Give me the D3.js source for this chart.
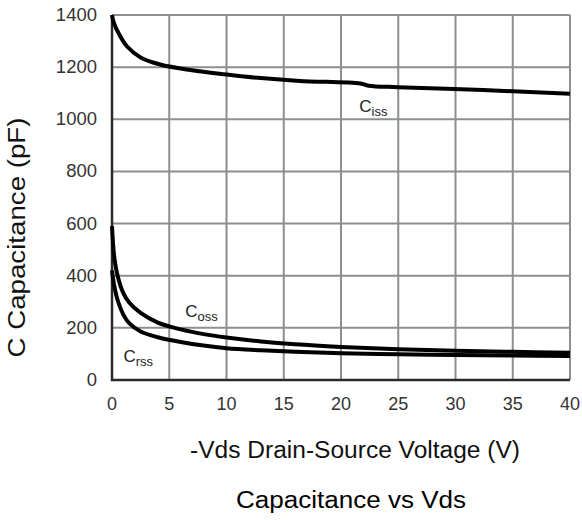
<!DOCTYPE html>
<html>
<head>
<meta charset="utf-8">
<script src="https://cdn.jsdelivr.net/npm/d3@7"></script>
<style>
  body { margin: 0; background: #fff; }
  svg text { font-family: "Liberation Sans", Arial, sans-serif; }
</style>
</head>
<body>
<div id="chart"></div>
<script>
// values
const xTicks = [0, 5, 10, 15, 20, 25, 30, 35, 40];
const yTicks = [0, 200, 400, 600, 800, 1000, 1200, 1400];

const cissV = [0, 0.15, 0.6, 1.3, 2.5, 4.2, 7, 10, 13, 16.4, 21.7, 22.4, 25, 32.4, 40];
const cissC = [1400, 1372, 1328, 1280, 1237, 1210, 1188, 1172, 1158, 1147, 1137, 1129, 1123, 1112, 1098];

const cossV = [0, 0.2, 0.5, 1, 1.5, 2.5, 4, 6, 8, 10, 13, 16, 20, 25, 30, 35, 40];
const cossC = [590, 470, 398, 332, 297, 257, 220, 194, 176, 163, 148, 137, 127, 118, 112, 108, 105];

const crssV = [0, 0.2, 0.5, 1, 1.5, 2.5, 4, 6, 8, 10, 13, 16, 20, 25, 30, 35, 40];
const crssC = [420, 360, 305, 250, 218, 186, 164, 146, 132, 122, 114, 108, 103, 99, 96, 94, 92];

const labels = [
  {main: "C", sub: "iss", v: 21.6, c: 1028},
  {main: "C", sub: "oss", v: 6.4, c: 240},
  {main: "C", sub: "rss", v: 1.0, c: 70}
];

const width = 582, height = 520;
const margin = {left: 112, right: 12, top: 15, bottom: 140};

const svg = d3.select("#chart").append("svg")
    .attr("width", width)
    .attr("height", height);

const x = d3.scaleLinear().domain([0, 40]).range([margin.left, width - margin.right]);
const y = d3.scaleLinear().domain([0, 1400]).range([height - margin.bottom, margin.top]);

// grid
svg.append("g")
    .selectAll("line")
    .data(xTicks)
    .join("line")
    .attr("x1", d => x(d)).attr("x2", d => x(d))
    .attr("y1", y(0)).attr("y2", y(1400))
    .attr("stroke", "#8e8e8e")
    .attr("stroke-width", 2);

svg.append("g")
    .selectAll("line")
    .data(yTicks)
    .join("line")
    .attr("x1", x(0)).attr("x2", x(40))
    .attr("y1", d => y(d)).attr("y2", d => y(d))
    .attr("stroke", "#8e8e8e")
    .attr("stroke-width", 2);

// left and bottom axis lines
svg.append("path")
    .attr("d", `M${x(0)},${y(1400)}V${y(0)}H${x(40)}`)
    .attr("fill", "none")
    .attr("stroke", "#2a2a2a")
    .attr("stroke-width", 2.5);

// tick labels
svg.append("g")
    .selectAll("text")
    .data(yTicks)
    .join("text")
    .attr("x", x(0) - 15)
    .attr("y", d => y(d) + 6)
    .attr("text-anchor", "end")
    .attr("font-size", 18.5)
    .attr("fill", "#333")
    .text(d => d);

svg.append("g")
    .selectAll("text")
    .data(xTicks)
    .join("text")
    .attr("x", d => x(d))
    .attr("y", y(0) + 30)
    .attr("text-anchor", "middle")
    .attr("font-size", 18)
    .attr("fill", "#333")
    .text(d => d);

// curves
const line = d3.line().curve(d3.curveCatmullRom.alpha(0.5));
const series = [[cissV, cissC], [cossV, cossC], [crssV, crssC]];
series.forEach(([vs, cs]) => {
    svg.append("path")
        .attr("d", line(vs.map((v, i) => [x(v), y(cs[i])])))
        .attr("fill", "none")
        .attr("stroke", "#000")
        .attr("stroke-width", 4)
        .attr("stroke-linejoin", "round");
});

// curve labels
labels.forEach(l => {
    const t = svg.append("text")
        .attr("x", x(l.v))
        .attr("y", y(l.c))
        .attr("font-size", 17)
        .attr("fill", "#222");
    t.append("tspan").text(l.main);
    t.append("tspan").attr("dy", 4).attr("font-size", 13).text(l.sub);
});

// axis titles
svg.append("text")
    .attr("transform", `translate(25,${(y(0) + y(1400)) / 2 + 40}) rotate(-90)`)
    .attr("text-anchor", "middle")
    .attr("font-size", 23)
    .attr("textLength", 240)
    .attr("lengthAdjust", "spacingAndGlyphs")
    .attr("fill", "#111")
    .text("C Capacitance (pF)");

svg.append("text")
    .attr("x", 355)
    .attr("y", 458)
    .attr("text-anchor", "middle")
    .attr("font-size", 23)
    .attr("textLength", 330)
    .attr("lengthAdjust", "spacingAndGlyphs")
    .attr("fill", "#111")
    .text("-Vds Drain-Source Voltage (V)");

svg.append("text")
    .attr("x", 351)
    .attr("y", 508)
    .attr("text-anchor", "middle")
    .attr("font-size", 23)
    .attr("textLength", 230)
    .attr("lengthAdjust", "spacingAndGlyphs")
    .attr("fill", "#000")
    .text("Capacitance vs Vds");
</script>
</body>
</html>
